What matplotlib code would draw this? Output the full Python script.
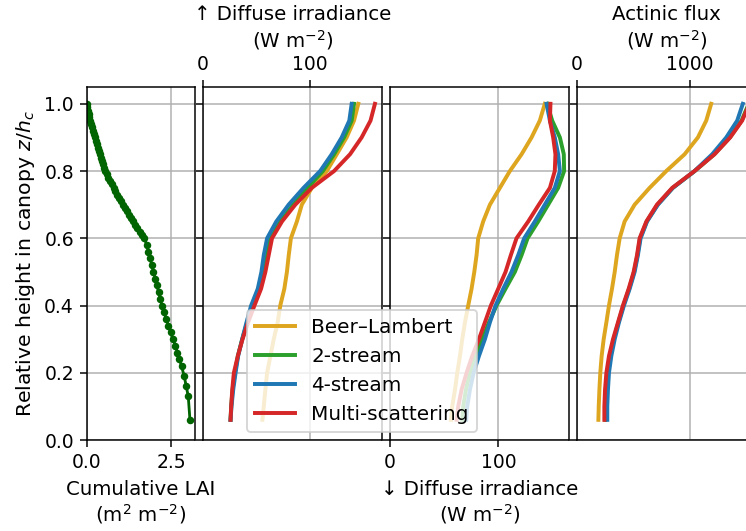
import matplotlib
matplotlib.use("Agg")
import matplotlib.pyplot as plt
import numpy as np

# --- Cumulative LAI profile (height levels and LAI) ---
z_lai = [1.00, 0.99, 0.98, 0.97, 0.96, 0.95, 0.94, 0.93, 0.92, 0.91, 0.90,
         0.89, 0.88, 0.87, 0.86, 0.85, 0.84, 0.83, 0.82, 0.81, 0.80,
         0.79, 0.78, 0.77, 0.76, 0.75, 0.74, 0.73, 0.72, 0.71, 0.70,
         0.69, 0.68, 0.67, 0.66, 0.65, 0.64, 0.63, 0.62, 0.61, 0.60,
         0.58, 0.56, 0.54, 0.52, 0.50, 0.48, 0.46, 0.44, 0.42, 0.40,
         0.38, 0.36, 0.34, 0.32, 0.30, 0.28, 0.26, 0.24, 0.22, 0.19,
         0.16, 0.13, 0.06]
lai_cum = [0.00, 0.01, 0.03, 0.05, 0.07, 0.09, 0.12, 0.15, 0.18, 0.21, 0.24,
           0.27, 0.30, 0.33, 0.36, 0.39, 0.42, 0.45, 0.48, 0.51, 0.54,
           0.58, 0.63, 0.68, 0.73, 0.79, 0.84, 0.90, 0.95, 1.01, 1.07,
           1.13, 1.19, 1.25, 1.30, 1.36, 1.42, 1.49, 1.56, 1.63, 1.70,
           1.77, 1.82, 1.87, 1.92, 1.97, 2.02, 2.07, 2.12, 2.17, 2.22,
           2.28, 2.35, 2.41, 2.48, 2.55, 2.62, 2.68, 2.74, 2.80, 2.88,
           2.94, 3.00, 3.05]

# --- Radiation profiles (relative height levels) ---
z = [1.00, 0.95, 0.90, 0.85, 0.80, 0.75, 0.70, 0.65, 0.60, 0.55,
     0.50, 0.45, 0.40, 0.35, 0.30, 0.25, 0.20, 0.15, 0.10, 0.06]

schemes = ["Beer–Lambert", "2-stream", "4-stream", "Multi-scattering"]
colors = ["#dea51f", "#2ca02c", "#1f77b4", "#d62728"]

# upward diffuse irradiance (W m-2)
up_bl = [144.9, 140.9, 134.0, 124.8, 115.5, 101.5, 92.2, 87.6, 82.0, 80.0,
         78.3, 75.9, 72.1, 69.7, 66.0, 62.9, 59.8, 58.2, 56.7, 55.4]
up_2s = [140.9, 138.7, 131.6, 122.3, 111.8, 97.5, 84.0, 72.1, 62.9, 59.8,
         56.7, 53.0, 46.5, 41.2, 36.6, 32.5, 29.8, 27.6, 26.3, 25.7]
up_4s = [138.7, 136.5, 129.4, 120.1, 109.3, 93.8, 79.9, 68.4, 59.8, 56.7,
         54.5, 51.1, 44.9, 40.6, 36.6, 32.8, 30.4, 28.2, 26.6, 25.7]
up_ms = [160.4, 156.3, 148.0, 137.2, 122.3, 101.5, 86.1, 73.7, 64.4, 61.3,
         58.2, 54.2, 48.0, 42.1, 36.9, 32.5, 28.8, 27.3, 26.3, 25.7]

# downward diffuse irradiance (W m-2)
dn_bl = [142.7, 138.1, 130.5, 121.3, 110.5, 101.3, 92.1, 85.9, 81.3, 79.8,
         77.7, 75.2, 72.1, 69.1, 66.6, 64.5, 62.0, 59.9, 57.4, 56.2]
dn_2s = [144.9, 149.5, 156.6, 160.2, 160.5, 155.0, 145.8, 136.6, 126.8, 121.3,
         115.1, 106.5, 98.2, 91.2, 85.0, 78.9, 73.7, 70.0, 67.5, 66.6]
dn_4s = [144.3, 147.4, 151.9, 155.0, 156.6, 151.9, 142.7, 133.5, 123.7, 118.2,
         112.0, 104.4, 97.3, 92.1, 87.5, 82.0, 77.1, 73.7, 71.2, 70.3]
dn_ms = [147.9, 147.4, 150.4, 152.5, 151.9, 147.4, 137.2, 127.4, 116.6, 111.4,
         106.5, 99.8, 93.0, 87.5, 82.0, 75.8, 70.6, 66.0, 62.9, 61.4]

# actinic flux (W m-2)
af_bl = [1192, 1148, 1074, 956, 793, 645, 512, 423, 379, 355,
         335, 311, 284, 261, 237, 219, 207, 199, 193, 190]
af_2s = [1525, 1462, 1358, 1220, 1046, 850, 715, 620, 560, 537,
         507, 463, 412, 368, 326, 292, 270, 258, 252, 252]
af_4s = [1473, 1423, 1326, 1201, 1044, 852, 719, 622, 565, 541,
         512, 468, 417, 373, 335, 305, 284, 275, 269, 269]
af_ms = [1532, 1467, 1361, 1222, 1044, 846, 710, 616, 556, 533,
         503, 459, 408, 364, 320, 284, 261, 249, 243, 243]

LABEL_FS = 10.5

fig = plt.figure(figsize=(746 / 135, 531 / 135), dpi=135)

W = 746.0
H = 531.0
bottom = 1 - 440 / H
height = (440 - 87) / H
ax_lai = fig.add_axes([87 / W, bottom, 108 / W, height])
ax_up = fig.add_axes([203 / W, bottom, 179 / W, height], sharey=ax_lai)
ax_dn = fig.add_axes([390 / W, bottom, 179 / W, height], sharey=ax_lai)
ax_af = fig.add_axes([577 / W, bottom, 179 / W, height], sharey=ax_lai)

# cumulative LAI
ax_lai.plot(lai_cum, z_lai, "o-", color="darkgreen", ms=3, lw=1.5)
ax_lai.set_xlim(0, 3.2)
ax_lai.set_xticks([0.0, 2.5])
ax_lai.set_xticklabels(["0.0", "2.5"])
ax_lai.set_xlabel("Cumulative LAI\n(m$^2$ m$^{-2}$)", fontsize=LABEL_FS)
ax_lai.set_ylim(0, 1.05)
ax_lai.set_yticks([0.0, 0.2, 0.4, 0.6, 0.8, 1.0])
ax_lai.set_ylabel("Relative height in canopy $z/h_c$", fontsize=10.9)

lines = []
for data, c, lab in zip([up_bl, up_2s, up_4s, up_ms], colors, schemes):
    ln, = ax_up.plot(data, z, color=c, lw=2.1, label=lab)
    lines.append(ln)
for data, c in zip([dn_bl, dn_2s, dn_4s, dn_ms], colors):
    ax_dn.plot(data, z, color=c, lw=2.1)
for data, c in zip([af_bl, af_2s, af_4s, af_ms], colors):
    ax_af.plot(data, z, color=c, lw=2.1)

# upward diffuse: axis on top
ax_up.set_xlim(0, 167)
ax_up.set_xticks([0, 100])
ax_up.xaxis.tick_top()
ax_up.xaxis.set_label_position("top")
ax_up.set_xlabel("↑ Diffuse irradiance\n(W m$^{-2}$)", fontsize=LABEL_FS)

# downward diffuse: axis at bottom
ax_dn.set_xlim(0, 165)
ax_dn.set_xticks([0, 100])
ax_dn.set_xlabel("↓ Diffuse irradiance\n(W m$^{-2}$)", fontsize=LABEL_FS)

# actinic flux: axis on top
ax_af.set_xlim(0, 1590)
ax_af.set_xticks([0, 1000])
ax_af.xaxis.tick_top()
ax_af.xaxis.set_label_position("top")
ax_af.set_xlabel("Actinic flux\n(W m$^{-2}$)", fontsize=LABEL_FS)

for ax in (ax_lai, ax_up, ax_dn, ax_af):
    ax.grid(True)
    ax.set_axisbelow(True)
for ax in (ax_up, ax_dn, ax_af):
    ax.tick_params(axis="y", labelleft=False)

fig.legend(lines, schemes, loc="lower left", fontsize=10.7,
           bbox_to_anchor=(247 / W, 1 - 432 / H), borderaxespad=0)

fig.savefig("out.png", dpi=135)
